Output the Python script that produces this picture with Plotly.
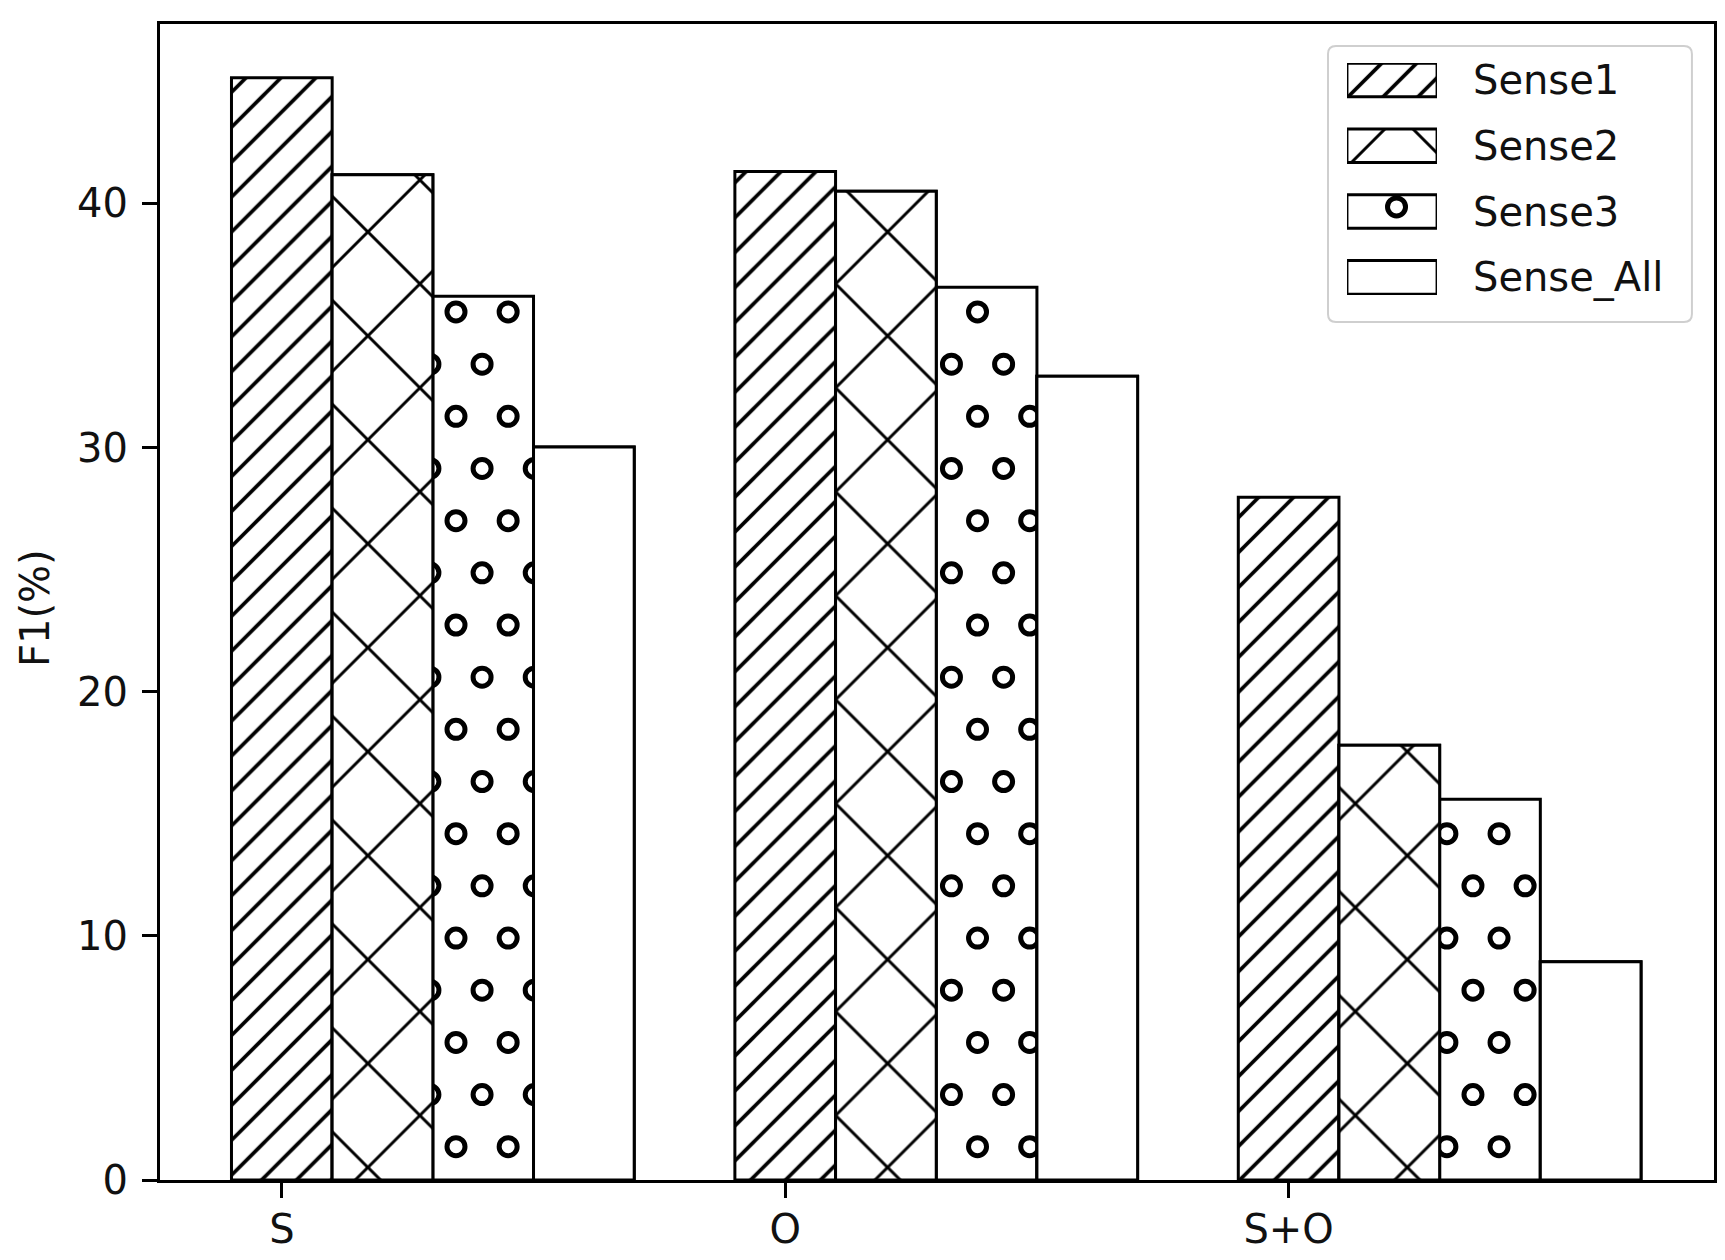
import plotly.graph_objects as go

# F1 scores (%) per input type and sense
categories = ["S", "O", "S+O"]
series_names = ["Sense1", "Sense2", "Sense3", "Sense_All"]
sense1 = [45.15, 41.31, 27.97]
sense2 = [41.18, 40.5, 17.81]
sense3 = [36.2, 36.57, 15.6]
sense_all = [30.02, 32.92, 8.94]
y_ticks = [0, 10, 20, 30, 40]

series_values = [sense1, sense2, sense3, sense_all]

FONT = "DejaVu Sans"
BAR_WIDTH = 0.2

# matplotlib-like hatches; the ring hatch of Sense3 is drawn with open markers
hatches = [
    dict(shape="/", size=24.7, solidity=0.15),
    dict(shape="x", size=73.5, solidity=0.08),
    dict(shape=""),
    dict(shape=""),
]
RING_SERIES = 2
RING_X0, RING_DX = 0.346, 0.1036
RING_Y0, RING_DY = 1.363, 2.137
RING_TOL_X, RING_R_X, RING_PAD_Y = 0.012, 0.023, 0.45
ring_marker = dict(symbol="circle-open", size=18, color="black", line=dict(width=5, color="black"))


def bar_marker(hatch):
    return dict(
        color="white",
        line=dict(color="black", width=3),
        pattern=dict(fgcolor="black", bgcolor="white", fgopacity=1, **hatch),
    )


def ring_centres(left, right, top, left_top, right_top):
    """Staggered grid of ring centres for one bar.

    Rings sitting on a bar edge spill into the neighbour bar; the neighbours
    are redrawn on top later so those rings look clipped like a hatch.
    """
    xs, ys = [], []
    m = 0
    while RING_Y0 + m * RING_DY <= top - RING_PAD_Y:
        y = RING_Y0 + m * RING_DY
        shift = RING_DX / 2 if m % 2 else 0
        for n in range(-2, 40):
            x = RING_X0 + shift + n * RING_DX
            if not (left - RING_TOL_X <= x <= right + RING_TOL_X):
                continue
            if x - RING_R_X < left and y > left_top - RING_PAD_Y:
                continue
            if x + RING_R_X > right and y > right_top - RING_PAD_Y:
                continue
            xs.append(x)
            ys.append(y)
        m += 1
    return xs, ys


fig = go.Figure()

positions = list(range(len(categories)))
bar_x = [[p + k * BAR_WIDTH for p in positions] for k in range(len(series_names))]

for k, name in enumerate(series_names):
    fig.add_trace(
        go.Bar(
            x=bar_x[k],
            y=series_values[k],
            width=BAR_WIDTH,
            name=name,
            marker=bar_marker(hatches[k]),
        )
    )

rx, ry = [], []
for i, (x, v) in enumerate(zip(bar_x[RING_SERIES], series_values[RING_SERIES])):
    cx, cy = ring_centres(
        x - BAR_WIDTH / 2, x + BAR_WIDTH / 2, v,
        series_values[RING_SERIES - 1][i], series_values[RING_SERIES + 1][i],
    )
    rx += cx
    ry += cy
fig.add_trace(go.Scatter(x=rx, y=ry, mode="markers", marker=ring_marker, hoverinfo="skip"))

# neighbours of the ring bars redrawn on an overlaid axis pair to clip the rings
for k in (RING_SERIES - 1, RING_SERIES + 1):
    fig.add_trace(
        go.Bar(
            x=bar_x[k],
            y=series_values[k],
            width=BAR_WIDTH,
            xaxis="x3",
            yaxis="y3",
            marker=bar_marker(hatches[k]),
            hoverinfo="skip",
        )
    )

# Legend drawn on a small extra axis so the hatch boxes are large like the original
for j, name in enumerate(series_names):
    fig.add_trace(
        go.Bar(
            x=[0],
            y=[0.51],
            base=[j - 0.255],
            width=1,
            xaxis="x2",
            yaxis="y2",
            marker=bar_marker(hatches[j]),
            hoverinfo="skip",
        )
    )
    fig.add_annotation(
        x=1.378, xref="x2 domain", y=j, yref="y2",
        text=name, showarrow=False, xanchor="left", yanchor="middle",
        font=dict(family=FONT, size=40, color="#111111"),
    )
fig.add_trace(
    go.Scatter(x=[0.05], y=[RING_SERIES - 0.07], xaxis="x2", yaxis="y2",
               mode="markers", marker=ring_marker, hoverinfo="skip")
)

# legend frame (rounded)
x0, x1, y0, y1 = 0.7516, 0.9858, 0.7422, 0.981
cr_x, cr_y = 8 / 1554, 8 / 1156
frame = (
    f"M {x0 + cr_x},{y0} L {x1 - cr_x},{y0} Q {x1},{y0} {x1},{y0 + cr_y} "
    f"L {x1},{y1 - cr_y} Q {x1},{y1} {x1 - cr_x},{y1} "
    f"L {x0 + cr_x},{y1} Q {x0},{y1} {x0},{y1 - cr_y} "
    f"L {x0},{y0 + cr_y} Q {x0},{y0} {x0 + cr_x},{y0} Z"
)
fig.add_shape(type="path", path=frame, xref="paper", yref="paper",
              line=dict(color="#cfcfcf", width=2), fillcolor="white", layer="below")

fig.add_annotation(
    x=-0.0804, xref="paper", y=0.4948, yref="paper",
    text="F1(%)", textangle=-90, showarrow=False,
    xanchor="center", yanchor="middle",
    font=dict(family=FONT, size=40, color="#111111"),
)

axis_style = dict(
    showline=True, linewidth=3, linecolor="black", mirror=True,
    ticks="outside", ticklen=15, tickwidth=3, tickcolor="black",
    showgrid=False, zeroline=False, automargin=False,
    tickfont=dict(family=FONT, size=40, color="#111111"),
)
x_range = [-0.242, 2.845]
y_range = [0, 47.35]

# the page body adds an 8px margin, so the figure is sized to fit inside it
fig.update_layout(
    width=1709,
    height=1244,
    autosize=False,
    margin=dict(l=152, r=3, t=16, b=72),
    barmode="overlay",
    showlegend=False,
    plot_bgcolor="white",
    paper_bgcolor="white",
    font=dict(family=FONT),
    xaxis=dict(
        range=x_range,
        tickvals=positions,
        ticktext=categories,
        ticklabelstandoff=-3,
        **axis_style,
    ),
    yaxis=dict(
        range=y_range,
        tickvals=y_ticks,
        ticklabelstandoff=6,
        **axis_style,
    ),
    xaxis3=dict(overlaying="x", range=x_range, visible=False),
    yaxis3=dict(overlaying="y", range=y_range, visible=False),
    xaxis2=dict(domain=[0.7638, 0.8218], anchor="y2", range=[-0.5, 0.5], visible=False),
    yaxis2=dict(domain=[0.7656, 0.9663], anchor="x2", range=[3.267, -0.258], visible=False),
)

fig.write_html("out.html")
